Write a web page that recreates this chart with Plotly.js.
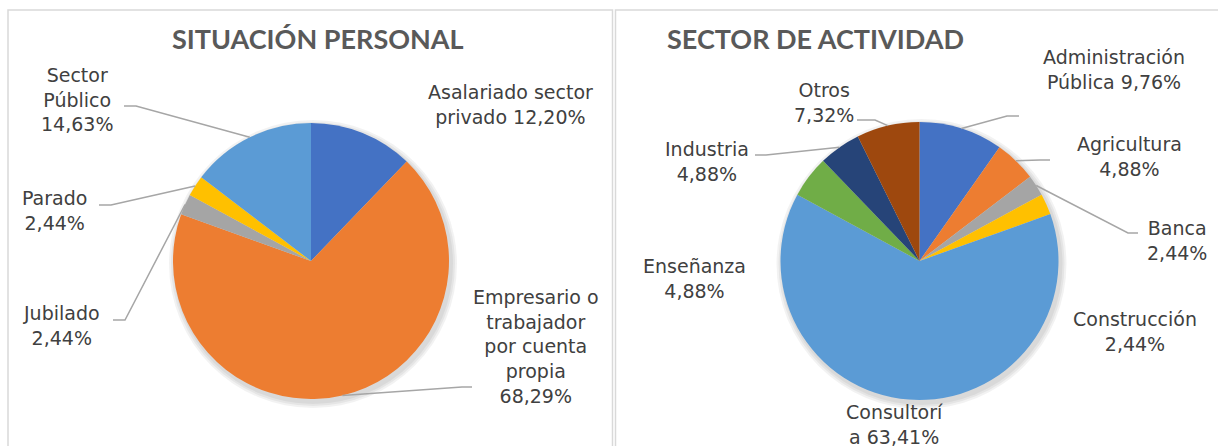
<!DOCTYPE html>
<html><head><meta charset="utf-8">
<script src="https://cdn.plot.ly/plotly-3.0.1.min.js"></script>
<style>html,body{margin:0;padding:0;background:#fff;overflow:hidden}</style>
</head><body><div id="chart" style="width:1218px;height:446px"></div>
<script>
// ---- data ----
const situacionLabels = ["Asalariado sector privado", "Empresario o trabajador por cuenta propia", "Jubilado", "Parado", "Sector Público"];
const situacionValues = [12.20, 68.29, 2.44, 2.44, 14.63];
const situacionText = ["Asalariado sector<br>privado", "Empresario o<br>trabajador<br>por cuenta<br>propia", "Jubilado", "Parado", "Sector<br>Público"];
const situacionSep = [" ", "<br>", "<br>", "<br>", "<br>"];

const sectorLabels = ["Administración Pública", "Agricultura", "Banca", "Construcción", "Consultoría", "Enseñanza", "Industria", "Otros"];
const sectorValues = [9.76, 4.88, 2.44, 2.44, 63.41, 4.88, 4.88, 7.32];
const sectorText = ["Administración<br>Pública", "Agricultura", "Banca", "Construcción", "Consultorí<br>a", "Enseñanza", "Industria", "Otros"];
const sectorSep = [" ", "<br>", "<br>", "<br>", " ", "<br>", "<br>", "<br>"];

const palette = ["#4472C4", "#ED7D31", "#A5A5A5", "#FFC000", "#5B9BD5", "#70AD47", "#264478", "#9E480E"];

// ---- layout geometry (pixels) ----
const W = 1218, H = 446;
const FONT = "'DejaVu Sans', Lato, sans-serif";
const TFONT = "Lato, 'Open Sans', sans-serif";
const pies = [
  {cx: 311, cy: 261, r: 138, title: "SITUACIÓN PERSONAL", tx: 318, ty: 38,
   labels: situacionLabels, values: situacionValues, text: situacionText, sep: situacionSep,
   pos: [
     {x: 510, y: 104, lead: null},
     {x: 536, y: 346, lead: [[462, 387], [472, 387]]},
     {x: 61, y: 325, lead: [[125, 320], [113, 320]]},
     {x: 54, y: 211, lead: [[111, 205], [99, 205]]},
     {x: 77, y: 100, lead: [[136, 106], [124, 106]]}
   ]},
  {cx: 919.5, cy: 261, r: 139, title: "SECTOR DE ACTIVIDAD", tx: 815, ty: 38,
   labels: sectorLabels, values: sectorValues, text: sectorText, sep: sectorSep,
   pos: [
     {x: 1114, y: 69, lead: [[1007, 116], [1019, 116]]},
     {x: 1129, y: 156, lead: [[1040, 160], [1050, 160]]},
     {x: 1177, y: 240, lead: [[1128, 233], [1138, 233]]},
     {x: 1135, y: 331, lead: null},
     {x: 894, y: 424, lead: null},
     {x: 694, y: 278, lead: null},
     {x: 707, y: 162, lead: [[766, 155], [755, 155]]},
     {x: 824, y: 102, lead: [[875, 120], [857, 120]]}
   ]}
];

const px = x => x / W;
const py = y => 1 - y / H;
const fmt = v => v.toFixed(2).replace(".", ",") + "%";

const traces = [], annotations = [], shapes = [];

// panel frames
shapes.push({type: "rect", xref: "paper", yref: "paper", x0: px(8), x1: px(612.5), y0: py(470), y1: py(10),
  line: {color: "#D9D9D9", width: 1.5}, fillcolor: "rgba(0,0,0,0)", layer: "below"});
shapes.push({type: "rect", xref: "paper", yref: "paper", x0: px(615.5), x1: px(1240), y0: py(470), y1: py(10),
  line: {color: "#D9D9D9", width: 1.5}, fillcolor: "rgba(0,0,0,0)", layer: "below"});

pies.forEach(p => {
  // soft shadow
  [6, 4, 2].forEach(d => {
    shapes.push({type: "circle", xref: "paper", yref: "paper", layer: "below",
      x0: px(p.cx + 2 - p.r - d), x1: px(p.cx + 2 + p.r + d), y0: py(p.cy + 3 + p.r + d), y1: py(p.cy + 3 - p.r - d),
      fillcolor: "rgba(0,0,0,0.05)", line: {width: 0}});
  });
  traces.push({
    type: "pie", labels: p.labels, values: p.values, sort: false, direction: "clockwise", rotation: 0,
    marker: {colors: palette.slice(0, p.values.length), line: {color: "#ffffff", width: 0}},
    textinfo: "none", hoverinfo: "label+percent", showlegend: false,
    domain: {x: [px(p.cx - p.r), px(p.cx + p.r)], y: [py(p.cy + p.r), py(p.cy - p.r)]}
  });
  annotations.push({xref: "paper", yref: "paper", x: px(p.tx), y: py(p.ty), xanchor: "center", yanchor: "middle",
    text: "<b>" + p.title + "</b>", showarrow: false, font: {family: TFONT, size: 27, color: "#595959"}});
  const total = p.values.reduce((a, b) => a + b, 0);
  let cum = 0;
  p.values.forEach((v, i) => {
    const mid = (cum + v / 2) / total * 2 * Math.PI;
    cum += v;
    const ex = p.cx + p.r * Math.sin(mid), ey = p.cy - p.r * Math.cos(mid);
    const pos = p.pos[i];
    annotations.push({xref: "paper", yref: "paper", x: px(pos.x), y: py(pos.y), xanchor: "center", yanchor: "middle",
      align: "center", showarrow: false, text: p.text[i] + p.sep[i] + fmt(v),
      font: {family: FONT, size: 19, color: "#404040"}});
    if (pos.lead) {
      const pts = [[ex, ey]].concat(pos.lead);
      const path = pts.map((q, k) => (k ? "L" : "M") + px(q[0]) + "," + py(q[1])).join(" ");
      shapes.push({type: "path", xref: "paper", yref: "paper", path: path, layer: "above",
        line: {color: "#A6A6A6", width: 1.5}});
    }
  });
});

Plotly.newPlot("chart", traces, {
  width: W, height: H, margin: {l: 0, r: 0, t: 0, b: 0},
  paper_bgcolor: "#ffffff", plot_bgcolor: "#ffffff",
  annotations: annotations, shapes: shapes, showlegend: false
}, {displayModeBar: false, staticPlot: true});
</script></body></html>
